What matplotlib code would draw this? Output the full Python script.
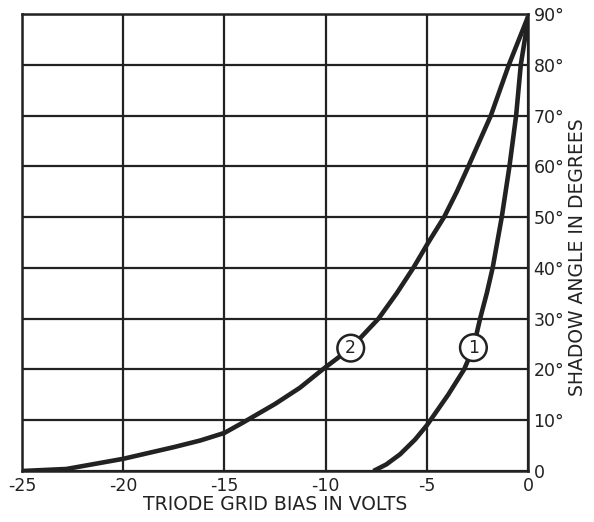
import numpy as np
import matplotlib
matplotlib.use("Agg")
import matplotlib.pyplot as plt

# curve (2)
bias_2 = [-25, -22.8, -20, -17.5, -16.2, -15, -14.1, -12.5, -11.27, -10.15, -8.76, -7.39,
          -6.49, -5.67, -4.93, -4.15, -3.52, -2.95, -1.84, -0.95, -0.35, 0]
angle_2 = [0, 0.4, 2.4, 4.7, 6.0, 7.5, 9.5, 13.2, 16.4, 20, 24.2, 30,
           35, 40, 45, 50, 55, 60, 70, 80, 86, 89.5]

# curve (1)
bias_1 = [-7.64, -7.0, -6.32, -5.58, -5.0, -3.95, -3.16, -2.7, -2.37, -2.04,
          -1.75, -1.3, -0.92, -0.59, -0.36, -0.12, 0]
angle_1 = [0, 1.3, 3.3, 6.2, 9.0, 15, 20, 24.3, 30, 35,
           40, 50, 60, 70, 80, 86, 89.5]

label_pos = {"2": (-8.76, 24.2), "1": (-2.7, 24.3)}

xticks = [-25, -20, -15, -10, -5, 0]
xticklabels = ["-25", "-20", "-15", "-10", "-5", "0"]
yticks = [0, 10, 20, 30, 40, 50, 60, 70, 80, 90]
yticklabels = ["0"] + ["%d\u00b0" % v for v in yticks[1:]]

plt.rcParams["font.family"] = ["DejaVu Sans"]
ink = "#222222"

fig = plt.figure(figsize=(5.94, 5.22), dpi=100)
ax = fig.add_axes([0.037, 0.0977, 0.852, 0.8753])

ax.set_xlim(-25, 0)
ax.set_ylim(0, 90)
ax.set_xticks(xticks)
ax.set_xticklabels(xticklabels)
ax.set_yticks(yticks)
ax.set_yticklabels(yticklabels)
ax.yaxis.tick_right()
ax.tick_params(length=0, labelsize=12.5, pad=4, colors=ink)
ax.grid(True, color=ink, lw=1.6)
for s in ax.spines.values():
    s.set_linewidth(1.8)
    s.set_color(ink)

ax.plot(bias_2, angle_2, color=ink, lw=3.3, solid_capstyle="butt", zorder=3)
ax.plot(bias_1, angle_1, color=ink, lw=3.3, solid_capstyle="butt", zorder=3)

for name, (x, y) in label_pos.items():
    ax.text(x, y, name, ha="center", va="center", fontsize=12.5, zorder=5, color=ink,
            bbox=dict(boxstyle="circle,pad=0.25", fc="white", ec=ink, lw=1.8))

ax.set_xlabel("TRIODE GRID BIAS IN VOLTS", fontsize=13.5, labelpad=0, color=ink)
fig.text(0.972, 0.508, "SHADOW ANGLE IN DEGREES", rotation=90, fontsize=13.5,
         ha="center", va="center", color=ink)

fig.savefig("out.png", dpi=100)
